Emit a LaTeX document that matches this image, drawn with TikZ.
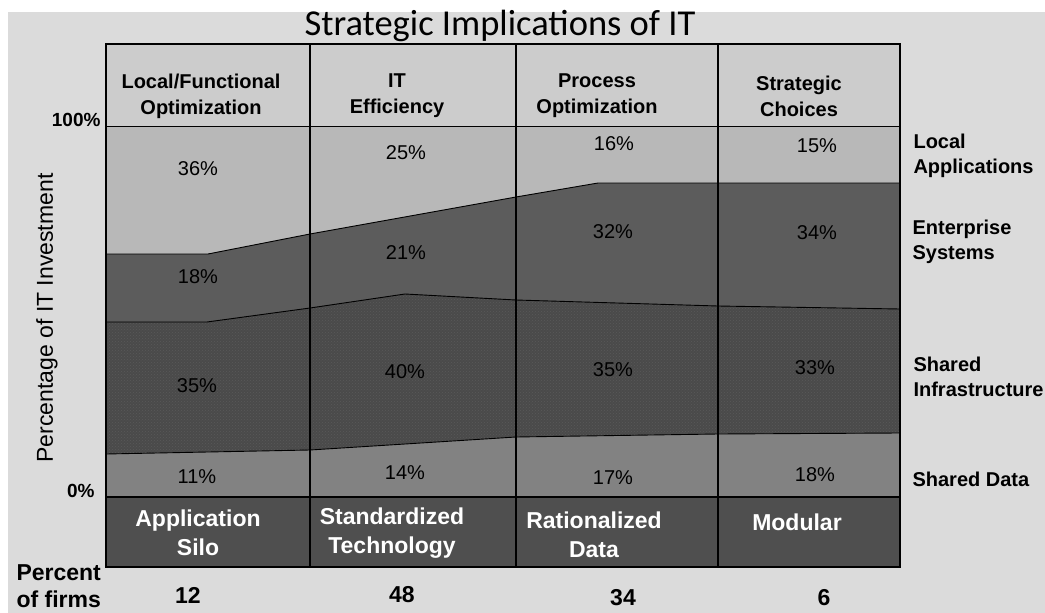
\documentclass[tikz,border=0pt]{standalone}
\usepackage{fontspec}
\setmainfont{Liberation Sans}
\newfontfamily\titlefont{Carlito}
\usetikzlibrary{patterns}

\definecolor{paper}{gray}{0.86}
\definecolor{headcol}{gray}{0.80}
\definecolor{localcol}{gray}{0.72}
\definecolor{entcol}{gray}{0.36}
\definecolor{infracol}{gray}{0.29}
\definecolor{datacol}{gray}{0.51}
\definecolor{archcol}{gray}{0.31}

\tikzset{
  pct/.style={font=\fontsize{20}{22}\selectfont},
  hdr/.style={font=\bfseries\fontsize{20}{26}\selectfont, align=center},
  side/.style={font=\bfseries\fontsize{20}{25}\selectfont, align=left, anchor=west},
  arch/.style={font=\bfseries\fontsize{23}{29}\selectfont, align=center, text=white},
  firms/.style={font=\bfseries\fontsize{23}{27}\selectfont},
  bound/.style={draw=black, line width=0.9pt},
  divider/.style={draw=black, line width=1.4pt}
}

\begin{document}
\begin{tikzpicture}[x=1pt, y=-1pt]
            \useasboundingbox (0,0) rectangle (1045,613);
            \fill[white] (0,0) rectangle (1045,613);
            \fill[paper] (8,12) rectangle (1045,613);

            \fill[headcol] (106,44) rectangle (900,126);
            \fill[localcol] (106,126) rectangle (900,497);
            \fill[entcol] (106,497) -- (106,254) -- (208,254) -- (310,234) -- (516,197) -- (598,183) -- (900,183) -- (900,497) -- cycle;
            \fill[infracol] (106,497) -- (106,322) -- (207,322) -- (310,308) -- (405,294) -- (516,300) -- (718,306) -- (900,309) -- (900,497) -- cycle;
            \fill[pattern=crosshatch dots, pattern color=gray!70!black] (106,497) -- (106,322) -- (207,322) -- (310,308) -- (405,294) -- (516,300) -- (718,306) -- (900,309) -- (900,497) -- cycle;
            \fill[datacol] (106,497) -- (106,454) -- (310,450) -- (516,437) -- (718,434) -- (900,433) -- (900,497) -- cycle;
            \fill[archcol] (106,497) rectangle (900,567);

            \draw[bound] (106,254) -- (208,254) -- (310,234) -- (516,197) -- (598,183) -- (900,183);
            \draw[bound] (106,322) -- (207,322) -- (310,308) -- (405,294) -- (516,300) -- (718,306) -- (900,309);
            \draw[bound] (106,454) -- (310,450) -- (516,437) -- (718,434) -- (900,433);
            \draw[bound] (106,126) -- (900,126);
            \draw[divider] (106,497) -- (900,497);
            \draw[divider] (106,44) rectangle (900,567);
            \foreach \x in {310,516,718}
                \draw[divider] (\x,44) -- (\x,567);

            \node[font=\titlefont\fontsize{36.5}{40}\selectfont] (title) at (500,26) {Strategic Implications of IT};

            \node[hdr] (h1) at (201,96) {Local/Functional\\Optimization};
            \node[hdr] (h2) at (397,96) {IT\\Efficiency};
            \node[hdr] (h3) at (597,96) {Process\\Optimization};
            \node[hdr] (h4) at (799,96) {Strategic\\Choices};

            \node[font=\bfseries\fontsize{19}{22}\selectfont, anchor=east] (top) at (104,120) {100\%};
            \node[font=\bfseries\fontsize{19}{22}\selectfont, anchor=east] (zero) at (98,491) {0\%};
            \node[font=\fontsize{23}{26}\selectfont, rotate=90] (yaxis) at (47,318) {Percentage of IT Investment};

            \node[pct] (a1) at (198,169) {36\%};
            \node[pct] (e1) at (198,277) {18\%};
            \node[pct] (i1) at (197,386) {35\%};
            \node[pct] (d1) at (197,477) {11\%};

            \node[pct] (a2) at (406,153) {25\%};
            \node[pct] (e2) at (406,253) {21\%};
            \node[pct] (i2) at (405,372) {40\%};
            \node[pct] (d2) at (405,473) {14\%};

            \node[pct] (a3) at (614,144) {16\%};
            \node[pct] (e3) at (613,232) {32\%};
            \node[pct] (i3) at (613,370) {35\%};
            \node[pct] (d3) at (613,478) {17\%};

            \node[pct] (a4) at (817,146) {15\%};
            \node[pct] (e4) at (817,233) {34\%};
            \node[pct] (i4) at (815,368) {33\%};
            \node[pct] (d4) at (815,475) {18\%};

            \node[side] (slocal) at (910,156) {Local\\Applications};
            \node[side] (sent) at (909,242) {Enterprise\\Systems};
            \node[side] (sinfra) at (910,377) {Shared\\Infrastructure};
            \node[side] (sdata) at (909,479) {Shared Data};

            \node[arch] (b1) at (198,533) {Application\\Silo};
            \node[arch] (b2) at (392,533) {Standardized\\Technology};
            \node[arch] (b3) at (594,535) {Rationalized\\Data};
            \node[arch] (b4) at (797,522) {Modular};

            \node[firms, align=left, anchor=west] (pfirms) at (13,586) {Percent\\of firms};
            \node[firms] (n1) at (188,595) {12};
            \node[firms] (n2) at (402,595) {48};
            \node[firms] (n3) at (623,598) {34};
            \node[firms] (n4) at (824,598) {6};
        \end{tikzpicture}
\end{document}
